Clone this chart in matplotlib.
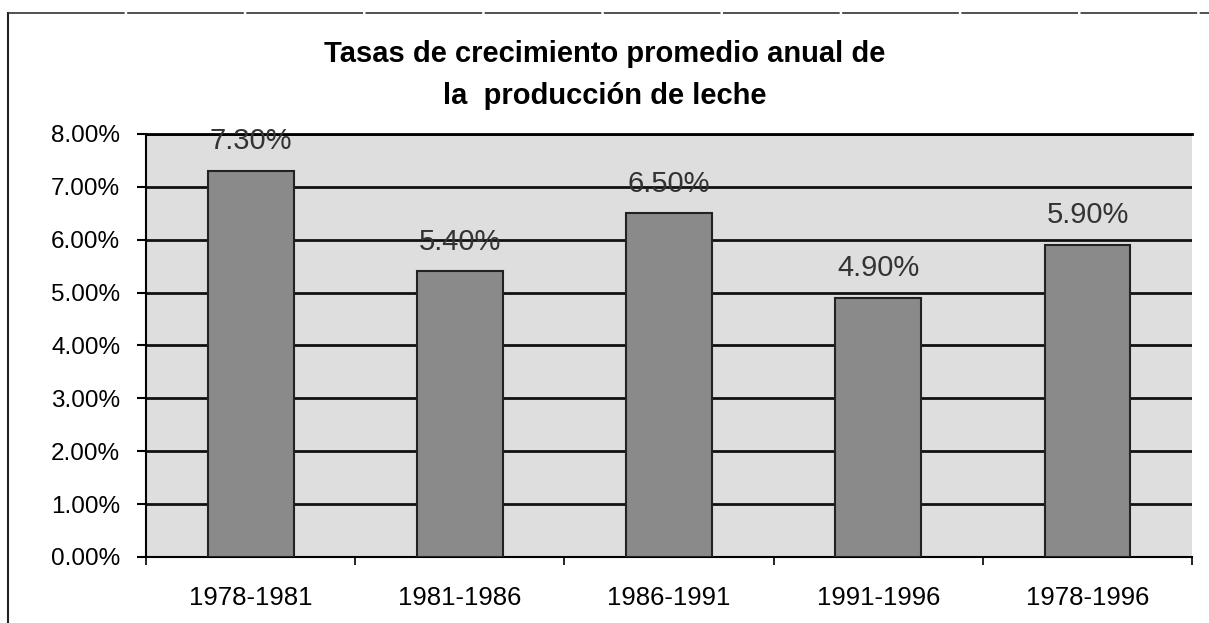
import matplotlib
matplotlib.use("Agg")
import matplotlib.pyplot as plt
from matplotlib.lines import Line2D

periodos = ["1978-1981", "1981-1986", "1986-1991", "1991-1996", "1978-1996"]
tasas = [7.30, 5.40, 6.50, 4.90, 5.90]
y_ticks = [0, 1, 2, 3, 4, 5, 6, 7, 8]

plt.rcParams['font.family'] = ['Liberation Sans', 'DejaVu Sans']

fig = plt.figure(figsize=(12.09, 6.23), dpi=100)
ax = fig.add_axes([0.1208, 0.106, 0.8652, 0.679])

# marco exterior (solo borde izquierdo y superior visibles)
fig.add_artist(Line2D([8 / 1209, 8 / 1209], [0, 1 - 13 / 623],
                      transform=fig.transFigure, color='#222222', linewidth=1.5))
fig.add_artist(Line2D([8 / 1209, 1], [1 - 13 / 623, 1 - 13 / 623],
                      transform=fig.transFigure, color='#333333', linewidth=1.2,
                      linestyle=(0, (70, 1.5))))

ax.set_facecolor('#dedede')
x = range(len(periodos))
ax.bar(x, tasas, width=0.41, color='#8a8a8a', edgecolor='#222222',
       linewidth=1.5, zorder=3)

for i, v in enumerate(tasas):
    ax.text(i, v + 0.56, f"{v:.2f}%", ha='center', va='center',
            fontsize=21, color='#333333', zorder=4)

ax.set_xlim(-0.5, len(periodos) - 0.5)
ax.set_ylim(0, 8)
ax.set_yticks(y_ticks)
ax.set_yticklabels([f"{t:.2f}%" for t in y_ticks], fontsize=17.5)
ax.yaxis.grid(True, color='#111111', linewidth=2, zorder=1)
ax.set_axisbelow(True)

ax.set_xticks(list(x))
ax.set_xticklabels(periodos, fontsize=18.5)
ax.set_xticks([i + 0.5 for i in range(len(periodos) - 1)] + [-0.5, 4.5], minor=True)
ax.tick_params(axis='x', which='major', length=0, pad=21)
ax.tick_params(axis='x', which='minor', length=6, width=1.2, direction='out')
ax.tick_params(axis='y', length=6.5, width=1.5, direction='out', pad=12)

ax.spines['left'].set_linewidth(1.5)
ax.spines['bottom'].set_linewidth(1.5)
ax.spines['top'].set_linewidth(2)
ax.spines['right'].set_visible(False)

fig.text(0.5, 1 - 62 / 623, "Tasas de crecimiento promedio anual de",
         ha='center', va='baseline', fontsize=21, fontweight='bold')
fig.text(0.5, 1 - 104 / 623, "la  producción de leche",
         ha='center', va='baseline', fontsize=21, fontweight='bold')

fig.savefig("out.png", dpi=100)
